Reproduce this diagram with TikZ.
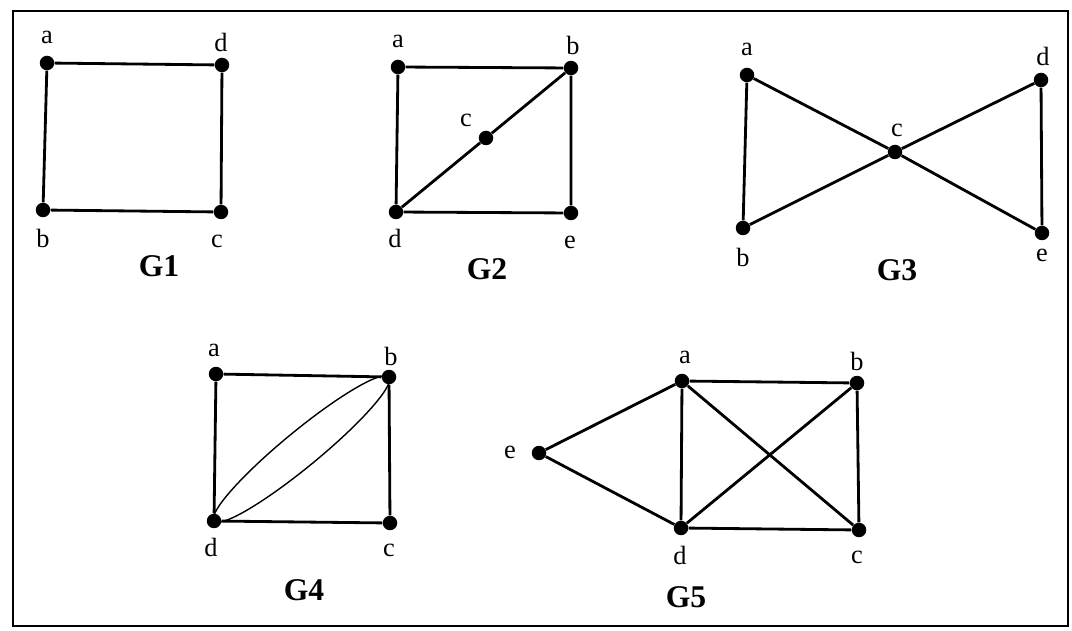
\documentclass[tikz,border=0pt]{standalone}
\usepackage{fontspec}
\setmainfont{Liberation Serif}
\usetikzlibrary{calc}
\begin{document}
\begin{tikzpicture}[x={(0.02cm,0)},y={(0,-0.02cm)},
  vtx/.style={circle,fill=black,inner sep=0pt,minimum size=0.29cm},
  lbl/.style={inner sep=0pt,font=\fontsize{15}{17}\selectfont},
  ttl/.style={inner sep=0pt,font=\fontsize{18}{21}\selectfont\bfseries},
  edge/.style={line width=1.6pt},
  thin/.style={line width=0.8pt}]
\useasboundingbox (0,0) rectangle (1072,631);
\draw[line width=1.4pt] (13,11) rectangle (1068,626);
% G1
\node[vtx] (1a) at (47,63) {};
\node[vtx] (1d) at (222,65) {};
\node[vtx] (1b) at (43,210) {};
\node[vtx] (1c) at (221,212) {};
\node[lbl] (l1a) at (47,37) {a};
\node[lbl] (l1d) at (221,42) {d};
\node[lbl] (l1b) at (43,238) {b};
\node[lbl] (l1c) at (217,241) {c};
\node[ttl] (t1) at (159,266) {G1};
\draw[edge] (1a) -- (1d) -- (1c) -- (1b) -- (1a);
% G2
\node[vtx] (2a) at (398,67) {};
\node[vtx] (2b) at (571,68) {};
\node[vtx] (2c) at (486,138) {};
\node[vtx] (2d) at (396,212) {};
\node[vtx] (2e) at (571,213) {};
\node[lbl] (l2a) at (398,41) {a};
\node[lbl] (l2b) at (573,45) {b};
\node[lbl] (l2c) at (466,120) {c};
\node[lbl] (l2d) at (395,238) {d};
\node[lbl] (l2e) at (570,242) {e};
\node[ttl] (t2) at (487,269) {G2};
\draw[edge] (2a) -- (2b) -- (2e) -- (2d) -- (2a);
\draw[edge] (2d) -- (2c) -- (2b);
% G3
\node[vtx] (3a) at (747,75) {};
\node[vtx] (3d) at (1041,80) {};
\node[vtx] (3c) at (895,152) {};
\node[vtx] (3b) at (743,228) {};
\node[vtx] (3e) at (1042,233) {};
\node[lbl] (l3a) at (747,49) {a};
\node[lbl] (l3d) at (1043,56) {d};
\node[lbl] (l3c) at (897,130) {c};
\node[lbl] (l3b) at (743,257) {b};
\node[lbl] (l3e) at (1042,255) {e};
\node[ttl] (t3) at (897,270) {G3};
\draw[edge] (3a) -- (3b) -- (3c) -- (3a);
\draw[edge] (3c) -- (3d) -- (3e) -- (3c);
% G4
\node[vtx] (4a) at (216,374) {};
\node[vtx] (4b) at (389,377) {};
\node[vtx] (4d) at (214,521) {};
\node[vtx] (4c) at (390,523) {};
\node[lbl] (l4a) at (214,350) {a};
\node[lbl] (l4b) at (391,356) {b};
\node[lbl] (l4d) at (211,547) {d};
\node[lbl] (l4c) at (389,550) {c};
\node[ttl] (t4) at (304,590) {G4};
\draw[edge] (4a) -- (4b) -- (4c) -- (4d) -- (4a);
\draw[thin] let \p1=($(4b)-(4d)$), \n1={atan2(\y1,\x1)}, \n2={veclen(\x1,\y1)/2} in
  ($(4d)!0.5!(4b)$) ellipse [x radius=\n2, y radius=0.36cm, rotate=\n1];
% G5
\node[vtx] (5a) at (682,381) {};
\node[vtx] (5b) at (857,383) {};
\node[vtx] (5e) at (539,453) {};
\node[vtx] (5d) at (681,528) {};
\node[vtx] (5c) at (859,530) {};
\node[lbl] (l5a) at (685,357) {a};
\node[lbl] (l5b) at (857,361) {b};
\node[lbl] (l5e) at (510,452) {e};
\node[lbl] (l5d) at (680,555) {d};
\node[lbl] (l5c) at (857,557) {c};
\node[ttl] (t5) at (686,597) {G5};
\draw[edge] (5e) -- (5a) -- (5b) -- (5c) -- (5d) -- (5e);
\draw[edge] (5a) -- (5d) -- (5b);
\draw[edge] (5a) -- (5c);
\end{tikzpicture}
\end{document}
